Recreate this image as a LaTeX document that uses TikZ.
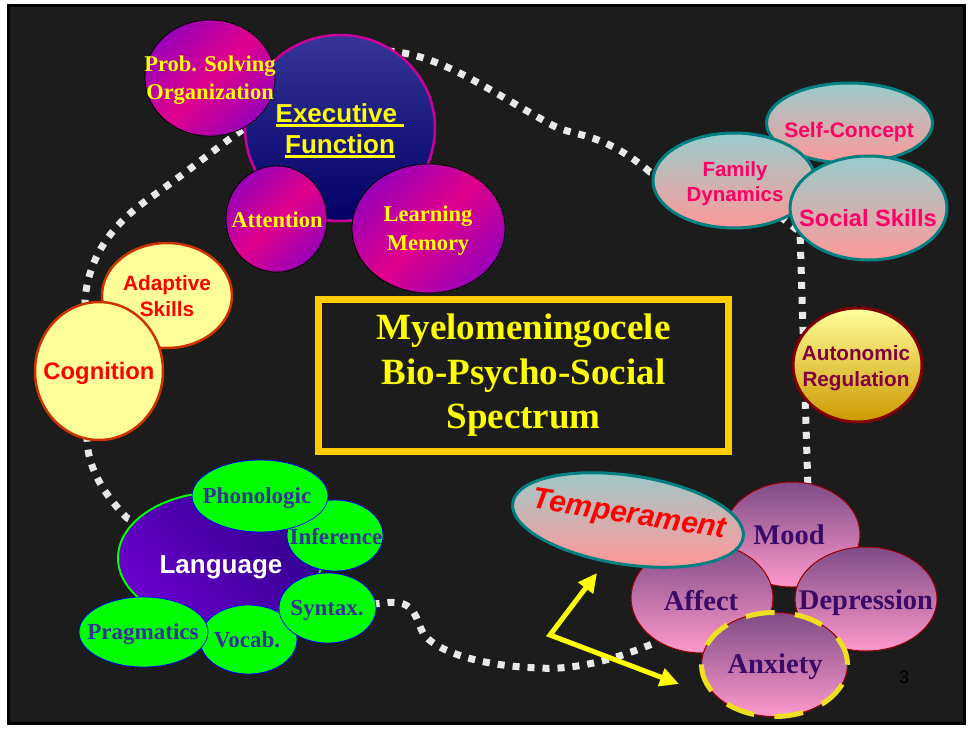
\documentclass[tikz,border=0pt]{standalone}
\usepackage{fontspec}
\usetikzlibrary{shapes.geometric,arrows.meta}
\newfontfamily\arl{Liberation Sans}
\newfontfamily\tnr{Liberation Serif}
\definecolor{bgc}{HTML}{1C1C1C}
\definecolor{mpur}{HTML}{9A00B8}
\definecolor{mmag}{HTML}{E0008C}
\definecolor{extop}{HTML}{363698}
\definecolor{exbot}{HTML}{000066}
\definecolor{exbrd}{HTML}{CC0099}
\definecolor{teala}{HTML}{99CCCC}
\definecolor{salm}{HTML}{FF9999}
\definecolor{tealb}{HTML}{008080}
\definecolor{socfg}{HTML}{FF0066}
\definecolor{lyel}{HTML}{FFFF99}
\definecolor{orbrd}{HTML}{CC3300}
\definecolor{goldb}{HTML}{CC9900}
\definecolor{maroonb}{HTML}{800000}
\definecolor{autfg}{HTML}{800040}
\definecolor{langa}{HTML}{6A00CC}
\definecolor{langb}{HTML}{30008C}
\definecolor{grn}{HTML}{00FF00}
\definecolor{grnfg}{HTML}{333399}
\definecolor{pka}{HTML}{7E4B86}
\definecolor{pkb}{HTML}{FF99CC}
\definecolor{pkbrd}{HTML}{990000}
\definecolor{pkfg}{HTML}{3A0A66}
\definecolor{ttlb}{HTML}{FFCC00}
\definecolor{dotc}{HTML}{E8E8E8}
\definecolor{anxd}{HTML}{EEE020}
\definecolor{yel}{HTML}{FFFF00}
\newcommand\ulword[1]{\setbox0\hbox{#1}\rlap{\rule[-4pt]{\wd0}{2.7pt}}\box0}
\pgfdeclarelayer{bg}\pgfdeclarelayer{trail}\pgfsetlayers{bg,trail,main}
\tikzset{
  sz/.style 2 args={minimum width=#1pt, minimum height=#2pt},
  bub/.style={ellipse, inner sep=0pt, outer sep=0pt},
  lbl/.style={align=center, inner sep=0pt},
  magb/.style={bub, draw=black, line width=0.8pt, top color=mpur, bottom color=mpur, middle color=mmag, shading angle=45},
  execb/.style={bub, draw=exbrd, line width=2.5pt, top color=extop, bottom color=exbot},
  socb/.style={bub, draw=tealb, line width=3pt, top color=teala, bottom color=salm},
  yelb/.style={bub, draw=orbrd, line width=2.5pt, fill=lyel},
  autb/.style={bub, draw=maroonb, line width=3pt, top color=lyel, bottom color=goldb},
  langbub/.style={bub, draw=grn, line width=2pt, top color=langb, bottom color=langa, shading angle=-50},
  grnb/.style={bub, draw=blue, line width=0.8pt, fill=grn},
  pkbub/.style={bub, draw=pkbrd, line width=1pt, top color=pka, bottom color=pkb},
  yser/.style={lbl, text=yel, font=\tnr\bfseries\fontsize{22.5}{28}\selectfont},
  soct/.style={lbl, text=socfg, font=\arl\bfseries\fontsize{20.5}{25.5}\selectfont},
  cogt/.style={lbl, text=red, font=\arl\bfseries\fontsize{20.8}{26}\selectfont},
  grnt/.style={lbl, text=grnfg, font=\tnr\bfseries\fontsize{23}{28}\selectfont},
  pkt/.style={lbl, text=pkfg, font=\tnr\bfseries\fontsize{28.5}{34}\selectfont},
  trailstyle/.style={draw=dotc, line width=7pt, dash pattern=on 7pt off 8pt},
  yarrow/.style={draw=yel, line width=5pt, line join=miter, {Triangle[length=19pt,width=18pt]}-{Triangle[length=19pt,width=18pt]}}
}
\begin{document}
\begin{tikzpicture}[x=1pt,y=-1pt]
\begin{pgfonlayer}{bg}
  \fill[white] (0,0) rectangle (969,729);
  \draw[black, line width=3pt, fill=bgc] (8.5,5.5) rectangle (964.5,723.5);
\end{pgfonlayer}
\useasboundingbox (0,0) rectangle (969,729);

% ---- executive cluster
\node[execb, sz={190}{186}] (exec) at (340,128) {};
\node[magb, sz={130}{116}] (ps) at (210,78) {};
\node[yser] (ps-t) at (210,80) {Prob. Solving\\Organization};
\node[magb, sz={101}{106}] (att) at (276.5,219) {};
\node[yser] (att-t) at (277,220) {Attention};
\node[magb, sz={153}{129}] (lm) at (428.5,228.5) {};
\node[yser, font=\tnr\bfseries\fontsize{22.5}{29}\selectfont] (lm-t) at (428,231) {Learning\\Memory};
\node[lbl, text=yel, font=\arl\bfseries\fontsize{26}{31}\selectfont] (exec-t) at (340,131) {\ulword{Executive\ }\\\ulword{Function}};

% ---- social cluster
\node[socb, sz={166}{80}] (self) at (849.5,123) {};
\node[soct, font=\arl\bfseries\fontsize{21}{25}\selectfont] (self-t) at (849,132.5) {Self-Concept};
\node[socb, sz={162}{95}] (fam) at (734,180.5) {};
\node[soct] (fam-t) at (735,183.5) {Family\\Dynamics};
\node[socb, sz={157}{104}] (soc) at (868.5,208) {};
\node[soct, font=\arl\bfseries\fontsize{23.6}{28}\selectfont] (soc-t) at (868,218.5) {Social Skills};

% ---- cognition
\node[yelb, sz={130}{105}] (adap) at (167,295.5) {};
\node[cogt] (adap-t) at (167,296) {Adaptive\\Skills};
\node[yelb, sz={128}{138}] (cog) at (99,371) {};
\node[cogt, font=\arl\bfseries\fontsize{23.8}{28}\selectfont] (cog-t) at (99,373) {Cognition};

% ---- language cluster
\node[langbub, sz={204}{132}] (lang) at (220,558) {};
\node[lbl, text=white, font=\arl\bfseries\fontsize{26}{30}\selectfont] (lang-t) at (221,567) {Language};
\node[grnb, sz={97}{69}] (voc) at (248.5,639.5) {};
\node[grnt] (voc-t) at (247,640) {Vocab.};
\node[grnb, sz={97}{70}] (syn) at (327.5,608) {};
\node[grnt] (syn-t) at (327,610) {Syntax.};
\node[grnb, sz={129}{70}] (prag) at (143.5,632) {};
\node[grnt] (prag-t) at (143,634) {Pragmatics};
\node[grnb, sz={96}{71}] (inf) at (335,535.5) {};
\node[grnt] (inf-t) at (336,536.5) {Inference};
\node[grnb, sz={136}{72}] (phon) at (260,496) {};
\node[grnt] (phon-t) at (257,498) {Phonologic};

% ---- title
\node[draw=ttlb, line width=7pt, sz={410}{152}, inner sep=0pt, align=center, text=yel,
      font=\tnr\bfseries\fontsize{37}{44.5}\selectfont] (title) at (523.5,375.5)
      {Myelomeningocele\\Bio-Psycho-Social\\Spectrum};

% ---- autonomic
\node[autb, sz={129}{114}] (aut) at (857.5,365) {};
\node[lbl, text=autfg, font=\arl\bfseries\fontsize{20.7}{26}\selectfont] (aut-t) at (856,368) {Autonomic\\Regulation};

% ---- emotion cluster
\node[pkbub, sz={136}{105}] (mood) at (792,534.5) {};
\node[pkt] (mood-t) at (789,535) {Mood};
\node[pkbub, sz={142}{110}] (aff) at (702,598) {};
\node[pkt] (aff-t) at (701,600.5) {Affect};
\node[pkbub, sz={142}{104}] (dep) at (866,599) {};
\node[pkt] (dep-t) at (866,603) {Depression};
\node[pkbub, sz={146}{104}] (anx) at (774.5,664.5) {};
\node[bub, draw=anxd, line width=5pt, dash pattern=on 29pt off 20.4pt, sz={146}{104}] (anx-ring) at (anx) {};
\node[pkt] (anx-t) at (775,667) {Anxiety};
\node[socb, sz={233}{89}, rotate=-8.5] (temp) at (628,520) {};
\node[lbl, text=red, rotate=-9, font=\arl\bfseries\itshape\fontsize{30}{34}\selectfont] (temp-t) at (629,516) {Temperament};

% ---- arrows
\coordinate (av) at (550,635);
\coordinate (tA) at (597,573);
\coordinate (tB) at (679,684);
\draw[yarrow] (tA) -- (av) -- (tB);

\node[lbl, text=black, font=\arl\fontsize{18}{18}\selectfont] (pg) at (904,677) {3};

% ---- dotted trail (behind everything)
\begin{pgfonlayer}{trail}
\draw[trailstyle] (exec.center) -- (388,51) .. controls (440,55) and (480,85) .. (550,124)
   .. controls (575,138) and (600,130) .. (650,172) -- (fam.center) -- (800,232) -- (808,490)
   -- (mood.center) -- (aff.center) -- (657,642) .. controls (610,662) and (570,670) .. (540,668)
   .. controls (480,666) and (440,652) .. (425,636) .. controls (415,622) and (418,598) .. (385,603)
   -- (syn.center) -- (lang.center) -- (127,518) .. controls (100,490) and (88,465) .. (87,440)
   -- (85,300) .. controls (88,260) and (110,225) .. (150,198) .. controls (190,170) and (220,145) .. (245,128)
   -- (exec.center);
\end{pgfonlayer}
\end{tikzpicture}
\end{document}
